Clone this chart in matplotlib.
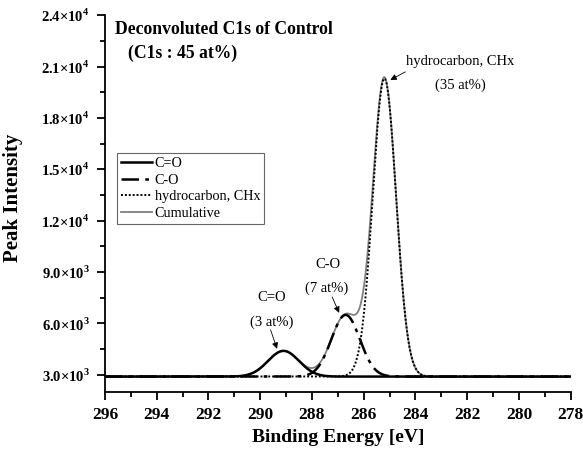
import numpy as np
import matplotlib
matplotlib.use("Agg")
import matplotlib.pyplot as plt
from matplotlib.ticker import MultipleLocator, FuncFormatter

plt.rcParams['font.family'] = ['Liberation Serif', 'DejaVu Serif']
plt.rcParams['mathtext.fontset'] = 'custom'
plt.rcParams['mathtext.rm'] = 'Liberation Serif:bold'
plt.rcParams['mathtext.bf'] = 'Liberation Serif:bold'

# fitted peak parameters
peak_names = ['C=O', 'C-O', 'hydrocarbon, CHx']
peak_centres = [289.1, 286.7, 285.2]
peak_heights = [1500, 3600, 17400]
peak_sigmas = [0.60, 0.55, 0.45]
baseline = 2900
peak_atpct = ['(3 at%)', '(7 at%)', '(35 at%)']
y_ticks = [3000, 6000, 9000, 12000, 15000, 18000, 21000, 24000]

energy = np.linspace(296, 278, 1500)
curves = [baseline + h * np.exp(-0.5 * ((energy - c) / s) ** 2)
          for c, h, s in zip(peak_centres, peak_heights, peak_sigmas)]
cumulative = baseline + sum(c - baseline for c in curves)

fig = plt.figure(figsize=(5.83, 4.54), dpi=100)
ax = fig.add_axes([0.180, 0.1366, 0.799, 0.830])

ax.plot(energy, cumulative, color='#808080', lw=1.3, label='Cumulative', zorder=1)
ax.plot(energy, curves[0], color='black', lw=1.8, label='C=O', zorder=3)
ax.plot(energy, curves[1], color='black', lw=1.8, ls=(0, (7, 2.5, 1.5, 2.5)), label='C-O', zorder=3)
ax.plot(energy, curves[2], color='black', lw=1.4, ls=(0, (1, 1)), label='hydrocarbon, CHx', zorder=3)

ax.set_xlim(296, 278)
ax.set_ylim(2000, 24000)
ax.xaxis.set_major_locator(MultipleLocator(2))
ax.xaxis.set_minor_locator(MultipleLocator(1))
ax.set_yticks(y_ticks)
ax.yaxis.set_minor_locator(MultipleLocator(1500))


def sci(v, pos):
    if v <= 0:
        return ''
    e = int(np.floor(np.log10(v)))
    return r'%.1f$\times$10$^{%d}$' % (v / 10 ** e, e)


ax.yaxis.set_major_formatter(FuncFormatter(sci))
ax.spines['top'].set_visible(False)
ax.spines['right'].set_visible(False)
for s in ['left', 'bottom']:
    ax.spines[s].set_linewidth(1.3)
ax.tick_params(which='major', direction='out', length=6, width=1.3)
ax.tick_params(which='minor', direction='out', length=3.5, width=1.3)
ax.tick_params(axis='x', labelsize=12.5, pad=5)
ax.tick_params(axis='y', labelsize=10.5, pad=5)
for lab in ax.get_xticklabels() + ax.get_yticklabels():
    lab.set_fontweight('bold')

ax.set_xlabel('Binding Energy [eV]', fontsize=14, fontweight='bold', labelpad=4)
ax.set_ylabel('Peak Intensity', fontsize=15, fontweight='bold')
ax.yaxis.set_label_coords(-0.176, 0.515)

ax.text(295.6, 23150, 'Deconvoluted C1s of Control', fontsize=12.7, fontweight='bold', va='center')
ax.text(295.1, 21800, '(C1s : 45 at%)', fontsize=12.7, fontweight='bold', va='center')

# annotations: name position, at% position, arrow tail and tip
name_pos = [(289.54, 7500), (287.4, 9420), (282.27, 21270)]
pct_pos = [(289.54, 6090), (287.43, 8080), (282.25, 19930)]
arrow_tail = [(289.6, 5630), (287.22, 7550), (284.39, 20690)]
arrow_tip = [(289.35, 4520), (286.95, 6620), (284.97, 20220)]
for name, pct, npos, ppos, tl, tip in zip(peak_names, peak_atpct, name_pos, pct_pos,
                                          arrow_tail, arrow_tip):
    ax.text(npos[0], npos[1], name, ha='center', va='center', fontsize=10.5)
    ax.text(ppos[0], ppos[1], pct, ha='center', va='center', fontsize=10.5)
    ax.annotate('', xy=tip, xytext=tl,
                arrowprops=dict(arrowstyle='-|>', color='black', lw=0.6,
                                mutation_scale=9, shrinkA=0, shrinkB=0))

handles, labels = ax.get_legend_handles_labels()
order = [1, 2, 3, 0]
leg = ax.legend([handles[i] for i in order], [labels[i] for i in order],
                loc='upper left', bbox_to_anchor=(0.026, 0.634), fontsize=10.2,
                fancybox=False, framealpha=1, edgecolor='#666666',
                handlelength=2.2, handletextpad=0.15, borderpad=0.3,
                labelspacing=0.25, borderaxespad=0)
leg.get_frame().set_linewidth(0.8)

fig.savefig('out.png', dpi=100)
